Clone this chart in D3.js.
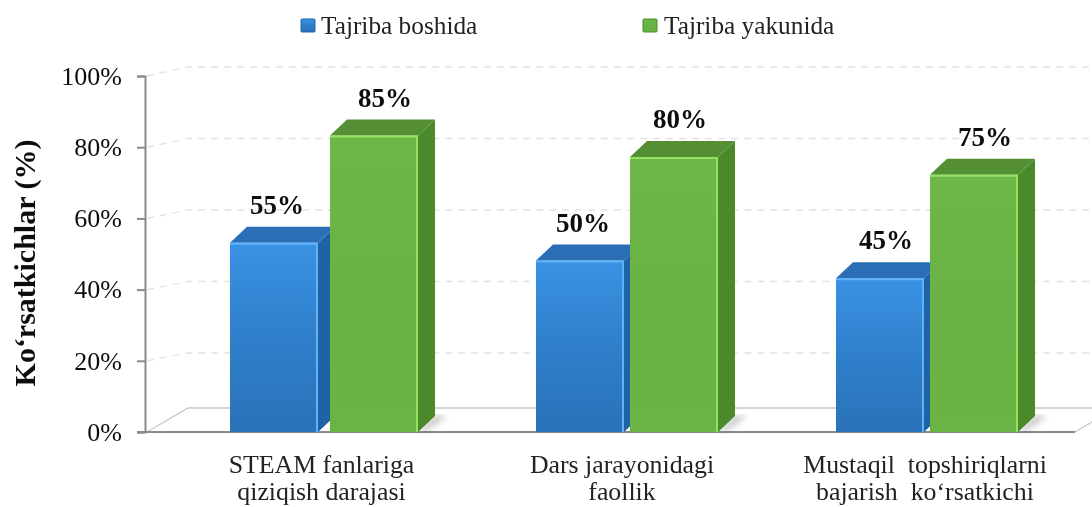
<!DOCTYPE html>
<html>
<head>
<meta charset="utf-8">
<script src="https://cdn.jsdelivr.net/npm/d3@7"></script>
<style>
  html, body { margin: 0; padding: 0; background: #fff; }
  svg { display: block; }
  text { font-family: "Liberation Serif", serif; fill: #111; }
</style>
</head>
<body>
<div id="chart"></div>
<script>
const categories = [
    ["STEAM fanlariga", "qiziqish darajasi"],
    ["Dars jarayonidagi", "faollik"],
    ["Mustaqil  topshiriqlarni", "bajarish  ko‘rsatkichi"]
];
const seriesNames = ["Tajriba boshida", "Tajriba yakunida"];
// printed labels
const startValues = [55, 50, 45];
const endValues = [85, 80, 75];
// heights as they are drawn in the picture, they do not quite follow the labels
const startHeights = [55, 50, 45];
const endHeights = [85, 79, 74];
const yTicks = [0, 20, 40, 60, 80, 100];
const gridTicks = [20, 40, 60, 80, 100];

const width = 1092, height = 507;
const svg = d3.select("#chart").append("svg").attr("width", width).attr("height", height);
const defs = svg.append("defs");

// axis is on the front plane, gridlines on the back wall
const y = d3.scaleLinear().domain([0, 100]).range([432, 76]);
const yGrid = d3.scaleLinear().domain([20, 100]).range([353, 67]);
const yBar = d3.scaleLinear().domain([0, 100]).range([439, 82]);
const x = d3.scalePoint().domain(d3.range(categories.length)).range([374, 974]);
const baseY = y(0);
const barW = 88, depthX = 17, depthY = 16;
const startShift = [-144, -138, -138], endShift = [-44, -44, -44];
const startLabelDx = [3, 3, 6], endLabelDx = [11, 6, 11];
const catX = [321.5, 622, 925];

const palette = [
    {top: "#2a6fb6", side: "#1f62a6", hi: "#5fb2f6", a: "#3a92e4", b: "#2f7fcb", c: "#2a72b8"},
    {top: "#548f33", side: "#4a8a2a", hi: "#92e264", a: "#6db748", b: "#69b245", c: "#6ab445"}
];
palette.forEach(function(p, i){
    const g = defs.append("linearGradient").attr("id", "front" + i)
        .attr("x1", 0).attr("x2", 0).attr("y1", 0).attr("y2", 1);
    g.append("stop").attr("offset", "0%").attr("stop-color", p.a);
    g.append("stop").attr("offset", "50%").attr("stop-color", p.b);
    g.append("stop").attr("offset", "100%").attr("stop-color", p.c);
});
defs.append("filter").attr("id", "soft").append("feGaussianBlur").attr("stdDeviation", 3);
defs.append("filter").attr("id", "blur").append("feGaussianBlur").attr("stdDeviation", 0.4);

// back wall and floor
const grid = svg.append("g");
grid.selectAll(".grid").data(gridTicks).enter().append("path")
    .attr("class", "grid")
    .attr("fill", "none")
    .attr("stroke", "#e2e2e2")
    .attr("stroke-width", 1.3)
    .attr("stroke-dasharray", "7 6")
    .attr("d", d => "M147," + y(d) + "L188," + yGrid(d) + "H" + width);

grid.append("path")
    .attr("fill", "none")
    .attr("stroke", "#c8c8c8")
    .attr("stroke-width", 1.3)
    .attr("d", "M147," + baseY + "L188,408H" + width + "M1075," + baseY + "L1116,408");

// y axis
const yAxis = svg.append("g")
    .attr("transform", "translate(145,0)")
    .call(d3.axisLeft(y).tickValues(yTicks).tickSize(8).tickPadding(15).tickFormat(d => d + "%"));
yAxis.selectAll("path,line").attr("stroke", "#8a8a8a").attr("stroke-width", 2);
yAxis.selectAll("text").attr("font-size", 26).attr("font-family", "Liberation Serif").attr("fill", "#222");

svg.append("line")
    .attr("x1", 137).attr("x2", 1075).attr("y1", baseY).attr("y2", baseY)
    .attr("stroke", "#8a8a8a").attr("stroke-width", 2);

// bars
const barData = [];
startValues.forEach(function(v, i){
    barData.push({i: i, s: 0, v: v, h: startHeights[i], x0: x(i) + startShift[i], dx: startLabelDx[i]});
});
endValues.forEach(function(v, i){
    barData.push({i: i, s: 1, v: v, h: endHeights[i], x0: x(i) + endShift[i], dx: endLabelDx[i]});
});

const bars = svg.selectAll(".bar").data(barData).enter().append("g").attr("class", "bar");

bars.filter(d => d.s == 1).append("path")
    .attr("fill", "#666")
    .attr("opacity", 0.4)
    .attr("filter", "url(#soft)")
    .attr("d", d => "M" + (d.x0 + barW) + "," + baseY + "L" + (d.x0 + barW + depthX) + "," + (baseY - depthY)
        + "H" + (d.x0 + barW + depthX + 12) + "L" + (d.x0 + barW + 6) + "," + baseY + "Z");

bars.append("path")
    .attr("fill", d => palette[d.s].side)
    .attr("d", d => {
        const t = yBar(d.h), r = d.x0 + barW;
        return "M" + r + "," + t + "L" + (r + depthX) + "," + (t - depthY)
            + "V" + (baseY - depthY) + "L" + r + "," + baseY + "Z";
    });
bars.append("path")
    .attr("fill", d => palette[d.s].top)
    .attr("d", d => {
        const t = yBar(d.h);
        return "M" + d.x0 + "," + t + "L" + (d.x0 + depthX) + "," + (t - depthY)
            + "H" + (d.x0 + barW + depthX) + "L" + (d.x0 + barW) + "," + t + "Z";
    });
bars.append("rect")
    .attr("x", d => d.x0)
    .attr("y", d => yBar(d.h))
    .attr("width", barW)
    .attr("height", d => baseY - yBar(d.h))
    .attr("fill", d => "url(#front" + d.s + ")");
// light bevel along top and right edge of the front face
bars.append("path")
    .attr("fill", "none")
    .attr("stroke", d => palette[d.s].hi)
    .attr("stroke-width", 2)
    .attr("d", d => "M" + d.x0 + "," + (yBar(d.h) + 1) + "H" + (d.x0 + barW - 1) + "V" + baseY);

// value labels
svg.selectAll(".value").data(barData).enter().append("text")
    .attr("class", "value")
    .attr("x", d => d.x0 + barW / 2 + d.dx)
    .attr("y", d => yBar(d.h) - 29)
    .attr("text-anchor", "middle")
    .attr("font-size", 27)
    .attr("font-weight", "bold")
    .text(d => d.v + "%");

// category labels
const catLabels = svg.selectAll(".cat").data(categories).enter().append("text")
    .attr("class", "cat")
    .attr("text-anchor", "middle")
    .attr("font-size", 25.8)
    .style("white-space", "pre")
    .style("fill", "#222");
catLabels.selectAll("tspan").data((d, i) => d.map(t => ({t: t, i: i}))).enter().append("tspan")
    .attr("x", d => catX[d.i])
    .attr("y", (d, j) => 473 + j * 27)
    .text(d => d.t);

// axis title
svg.append("text")
    .attr("transform", "translate(35,263) rotate(-90)")
    .attr("text-anchor", "middle")
    .attr("font-size", 30)
    .attr("font-weight", "bold")
    .text("Ko‘rsatkichlar (%)");

// legend
const legend = svg.selectAll(".legend").data(seriesNames).enter().append("g")
    .attr("class", "legend")
    .attr("transform", (d, i) => "translate(" + [301, 643][i] + ",19)");
legend.append("rect")
    .attr("width", 14).attr("height", 13).attr("rx", 1)
    .attr("fill", (d, i) => "url(#front" + i + ")")
    .attr("stroke", (d, i) => palette[i].side)
    .attr("stroke-width", 1);
legend.append("text")
    .attr("x", (d, i) => [20, 21][i]).attr("y", 15)
    .attr("font-size", 25.3)
    .style("fill", "#222")
    .text(d => d);

svg.selectAll("text").attr("filter", "url(#blur)");
</script>
</body>
</html>
